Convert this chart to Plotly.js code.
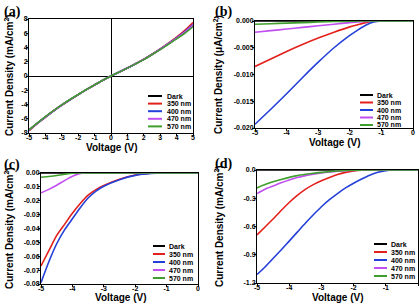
<!DOCTYPE html>
<html><head><meta charset="utf-8">
<script src="https://cdn.plot.ly/plotly-3.0.1.min.js"></script>
<style>html,body{margin:0;padding:0;background:#fff}#chart{width:420px;height:304px}</style>
</head><body><div id="chart"></div>
<script>
// ---- series meta ----
const seriesNames = ['Dark', '350 nm', '400 nm', '470 nm', '570 nm'];
const seriesColors = ['#000000', '#e3211c', '#2440d8', '#c04ef0', '#3f9e2e'];

// ---- panel (a) : mA/cm2, -5..5 V ----
const vA = [-5, -4.5, -4, -3.5, -3, -2.5, -2, -1.5, -1, -0.5, 0, 0.5, 1, 1.5, 2, 2.5, 3, 3.5, 4, 4.5, 5];
const aDark = [-7.6, -6.65, -5.75, -4.88, -4.07, -3.32, -2.61, -1.91, -1.25, -0.6, 0, 0.55, 1.11, 1.71, 2.33, 3.02, 3.75, 4.52, 5.3, 6.15, 7.1];
const a350 = [-7.7, -6.7, -5.8, -4.9, -4.1, -3.35, -2.62, -1.92, -1.26, -0.61, 0, 0.56, 1.12, 1.72, 2.35, 3.05, 3.8, 4.6, 5.45, 6.4, 7.5];
const a400 = [-7.62, -6.66, -5.76, -4.89, -4.08, -3.33, -2.61, -1.91, -1.25, -0.6, 0, 0.55, 1.11, 1.71, 2.34, 3.03, 3.77, 4.55, 5.35, 6.22, 7.2];
const a470 = [-7.6, -6.65, -5.75, -4.88, -4.07, -3.32, -2.61, -1.91, -1.25, -0.6, 0, 0.55, 1.11, 1.71, 2.33, 3.02, 3.76, 4.53, 5.32, 6.18, 7.15];
const a570 = [-7.55, -6.6, -5.7, -4.85, -4.05, -3.3, -2.6, -1.9, -1.25, -0.6, 0, 0.55, 1.1, 1.7, 2.3, 3.0, 3.7, 4.45, 5.2, 6.0, 6.9];

// ---- panel (b) : uA/cm2 ----
const vB = [-5, -4.5, -4, -3.5, -3, -2.5, -2, -1.75, -1.5, -1.25, -1, -0.5, 0];
const bDark = [0, 0, 0, 0, 0, 0, 0, 0, 0, 0, 0, 0, 0];
const b350 = [-0.0085, -0.0071, -0.0057, -0.0044, -0.0032, -0.0021, -0.0011, -0.0007, -0.0003, -0.00005, 0, 0, 0];
const b400 = [-0.0193, -0.0165, -0.0136, -0.0106, -0.0077, -0.005, -0.0027, -0.0017, -0.0008, -0.0002, 0, 0, 0];
const b470 = [-0.0021, -0.0018, -0.0015, -0.0012, -0.0009, -0.0006, -0.0003, -0.0002, -0.0001, 0, 0, 0, 0];
const b570 = [-0.0006, -0.0005, -0.0004, -0.0003, -0.0002, -0.0001, -0.00003, 0, 0, 0, 0, 0, 0];

// ---- panel (c) : mA/cm2 ----
const vC = [-5, -4.75, -4.5, -4.25, -4, -3.75, -3.5, -3.25, -3, -2.5, -2, -1.5, -1, 0];
const cDark = [0, 0, 0, 0, 0, 0, 0, 0, 0, 0, 0, 0, 0, 0];
const c350 = [-0.067, -0.056, -0.045, -0.037, -0.029, -0.022, -0.016, -0.012, -0.009, -0.0045, -0.0015, -0.0002, 0, 0];
const c400 = [-0.079, -0.064, -0.051, -0.041, -0.033, -0.025, -0.018, -0.013, -0.0095, -0.0048, -0.0017, -0.0003, 0, 0];
const c470 = [-0.0143, -0.0118, -0.0088, -0.0055, -0.0024, -0.0003, 0, 0, 0, 0, 0, 0, 0, 0];
const c570 = [-0.0031, -0.0025, -0.0018, -0.0009, -0.0001, 0, 0, 0, 0, 0, 0, 0, 0, 0];

// ---- panel (d) : mA/cm2 ----
const vD = [-5, -4.75, -4.5, -4.25, -4, -3.75, -3.5, -3.25, -3, -2.75, -2.5, -2.25, -2, -1.75, -1.5, -1.25, -1, -0.75, -0.5, 0];
const dDark = [0, 0, 0, 0, 0, 0, 0, 0, 0, 0, 0, 0, 0, 0, 0, 0, 0, 0, 0, 0];
const d350 = [-0.69, -0.605, -0.52, -0.43, -0.345, -0.27, -0.205, -0.155, -0.115, -0.08, -0.048, -0.025, -0.01, -0.002, 0, 0, 0, 0, 0, 0];
const d400 = [-1.11, -1.03, -0.94, -0.85, -0.755, -0.66, -0.565, -0.475, -0.39, -0.315, -0.25, -0.19, -0.14, -0.095, -0.055, -0.025, -0.007, 0, 0, 0];
const d470 = [-0.25, -0.205, -0.17, -0.135, -0.105, -0.08, -0.06, -0.045, -0.032, -0.022, -0.014, -0.008, -0.004, -0.001, 0, 0, 0, 0, 0, 0];
const d570 = [-0.19, -0.155, -0.125, -0.1, -0.078, -0.06, -0.046, -0.034, -0.025, -0.017, -0.01, -0.005, -0.002, 0, 0, 0, 0, 0, 0, 0];

// ---- tick labels ----
const aXVals = [-5, -4, -3, -2, -1, 0, 1, 2, 3, 4, 5];
const aXText = ['-5', '-4', '-3', '-2', '-1', '0', '1', '2', '3', '4', '5'];
const aYVals = [-8, -6, -4, -2, 0, 2, 4, 6, 8];
const aYText = ['-8', '-6', '-4', '-2', '0', '2', '4', '6', '8'];
const nXVals = [-5, -4, -3, -2, -1, 0];
const nXText = ['-5', '-4', '-3', '-2', '-1', '0'];
const bYVals = [-0.02, -0.015, -0.01, -0.005, 0];
const bYText = ['-0.020', '-0.015', '-0.010', '-0.005', '0.000'];
const cYVals = [-0.08, -0.07, -0.06, -0.05, -0.04, -0.03, -0.02, -0.01, 0];
const cYText = ['-0.08', '-0.07', '-0.06', '-0.05', '-0.04', '-0.03', '-0.02', '-0.01', '0.00'];
const dYVals = [-1.2, -0.9, -0.6, -0.3, 0];
const dYText = ['-1.2', '-0.9', '-0.6', '-0.3', '0.0'];

// ---- titles ----
const xTitle = 'Voltage (V)';
const yTitles = ['Current Density (mA/cm<sup>2</sup>)', 'Current Density (\u03BCA/cm<sup>2</sup>)',
                 'Current Density (mA/cm<sup>2</sup>)', 'Current Density (mA/cm<sup>2</sup>)'];

const W = 420, H = 304;
const px = x => x / W;
const py = y => 1 - y / H;

const panels = [
  {x: vA, ys: [aDark, a350, a400, a470, a570], xa: 'x', ya: 'y'},
  {x: vB, ys: [bDark, b350, b400, b470, b570], xa: 'x2', ya: 'y2'},
  {x: vC, ys: [cDark, c350, c400, c470, c570], xa: 'x3', ya: 'y3'},
  {x: vD, ys: [dDark, d350, d400, d470, d570], xa: 'x4', ya: 'y4'}
];

const traces = [];
panels.forEach(p => {
  p.ys.forEach((y, i) => {
    traces.push({
      type: 'scatter', mode: 'lines', x: p.x, y: y,
      xaxis: p.xa, yaxis: p.ya, showlegend: false,
      line: {color: seriesColors[i], width: 1.6, shape: 'spline', smoothing: 0.6},
      hoverinfo: 'skip'
    });
  });
});

const tickFont = {family: 'Liberation Sans, Arial, sans-serif', size: 7, color: '#000', weight: 'bold'};
const titleFont = {family: 'Liberation Sans, Arial, sans-serif', size: 10, color: '#000', weight: 'bold'};

function axis(dom, anchor, range, vals, text, zl, standoff) {
  return {
    domain: dom, anchor: anchor, range: range, tickmode: 'array', tickvals: vals, ticktext: text,
    showline: true, linecolor: '#000', linewidth: 1, mirror: true, ticks: 'outside', ticklen: 2,
    tickwidth: 1, tickcolor: '#000', showgrid: false, zeroline: !!zl, zerolinecolor: '#000', zerolinewidth: 1,
    tickfont: tickFont, ticklabelstandoff: standoff
  };
}

const boxes = [
  {l: 29, r: 193, t: 19, b: 133},
  {l: 255, r: 413, t: 21, b: 128},
  {l: 41, r: 198, t: 173, b: 284},
  {l: 257, r: 418, t: 170, b: 283}
];
const dx = b => [px(b.l), px(b.r)];
const dy = b => [py(b.b), py(b.t)];

const XS = -4, YS = -3;
const layout = {
  width: W, height: H, margin: {l: 0, r: 0, t: 0, b: 0},
  paper_bgcolor: '#fff', plot_bgcolor: '#fff', showlegend: false,
  xaxis: axis(dx(boxes[0]), 'y', [-5, 5], aXVals, aXText, true, XS),
  yaxis: axis(dy(boxes[0]), 'x', [-8, 8], aYVals, aYText, true, YS),
  xaxis2: axis(dx(boxes[1]), 'y2', [-5, 0], nXVals, nXText, false, XS),
  yaxis2: axis(dy(boxes[1]), 'x2', [-0.02, 0], bYVals, bYText, false, YS),
  xaxis3: axis(dx(boxes[2]), 'y3', [-5, 0], nXVals, nXText, false, XS),
  yaxis3: axis(dy(boxes[2]), 'x3', [-0.08, 0], cYVals, cYText, false, YS),
  xaxis4: axis(dx(boxes[3]), 'y4', [-5, 0], nXVals, nXText, false, XS),
  yaxis4: axis(dy(boxes[3]), 'x4', [-1.2, 0], dYVals, dYText, false, YS),
  shapes: [], annotations: []
};

// axis titles
const xTitlePos = [[111, 147], [334, 142], [120, 297], [337, 297]];
const yTitlePos = [[9, 75], [218, 75], [9, 228], [219, 226]];
for (let i = 0; i < 4; i++) {
  layout.annotations.push({text: xTitle, xref: 'paper', yref: 'paper', x: px(xTitlePos[i][0]), y: py(xTitlePos[i][1]),
    xanchor: 'center', yanchor: 'middle', showarrow: false, font: titleFont});
  layout.annotations.push({text: yTitles[i], xref: 'paper', yref: 'paper', x: px(yTitlePos[i][0]), y: py(yTitlePos[i][1]),
    xanchor: 'center', yanchor: 'middle', textangle: -90, showarrow: false, font: titleFont});
}

// panel labels
const panelLabels = ['(a)', '(b)', '(c)', '(d)'];
const labelPos = [[2, 2], [213, 2], [2, 155], [213, 154]];
panelLabels.forEach((t, i) => {
  layout.annotations.push({
    text: '<b>' + t + '</b>', xref: 'paper', yref: 'paper', x: px(labelPos[i][0]), y: py(labelPos[i][1]),
    xanchor: 'left', yanchor: 'top', showarrow: false,
    font: {family: 'Liberation Serif, Times New Roman, serif', size: 14, color: '#000'}
  });
});

// legends (one per panel)
const legendPos = [
  {x0: 148, x1: 162, tx: 165, y0: 96, step: 7.6},
  {x0: 360, x1: 373, tx: 375, y0: 95, step: 7.5},
  {x0: 153, x1: 165, tx: 167, y0: 246, step: 8},
  {x0: 374, x1: 387, tx: 389, y0: 244, step: 8}
];
legendPos.forEach(L => {
  seriesNames.forEach((name, i) => {
    const yy = L.y0 + i * L.step;
    layout.shapes.push({type: 'line', xref: 'paper', yref: 'paper', x0: px(L.x0), x1: px(L.x1), y0: py(yy), y1: py(yy),
      line: {color: seriesColors[i], width: 2}});
    layout.annotations.push({text: name, xref: 'paper', yref: 'paper', x: px(L.tx), y: py(yy), xanchor: 'left', yanchor: 'middle',
      showarrow: false, font: {family: 'Liberation Sans, Arial, sans-serif', size: 7, color: '#000', weight: 'bold'}});
  });
});

Plotly.newPlot('chart', traces, layout, {staticPlot: true, displayModeBar: false});
</script>
</body></html>
